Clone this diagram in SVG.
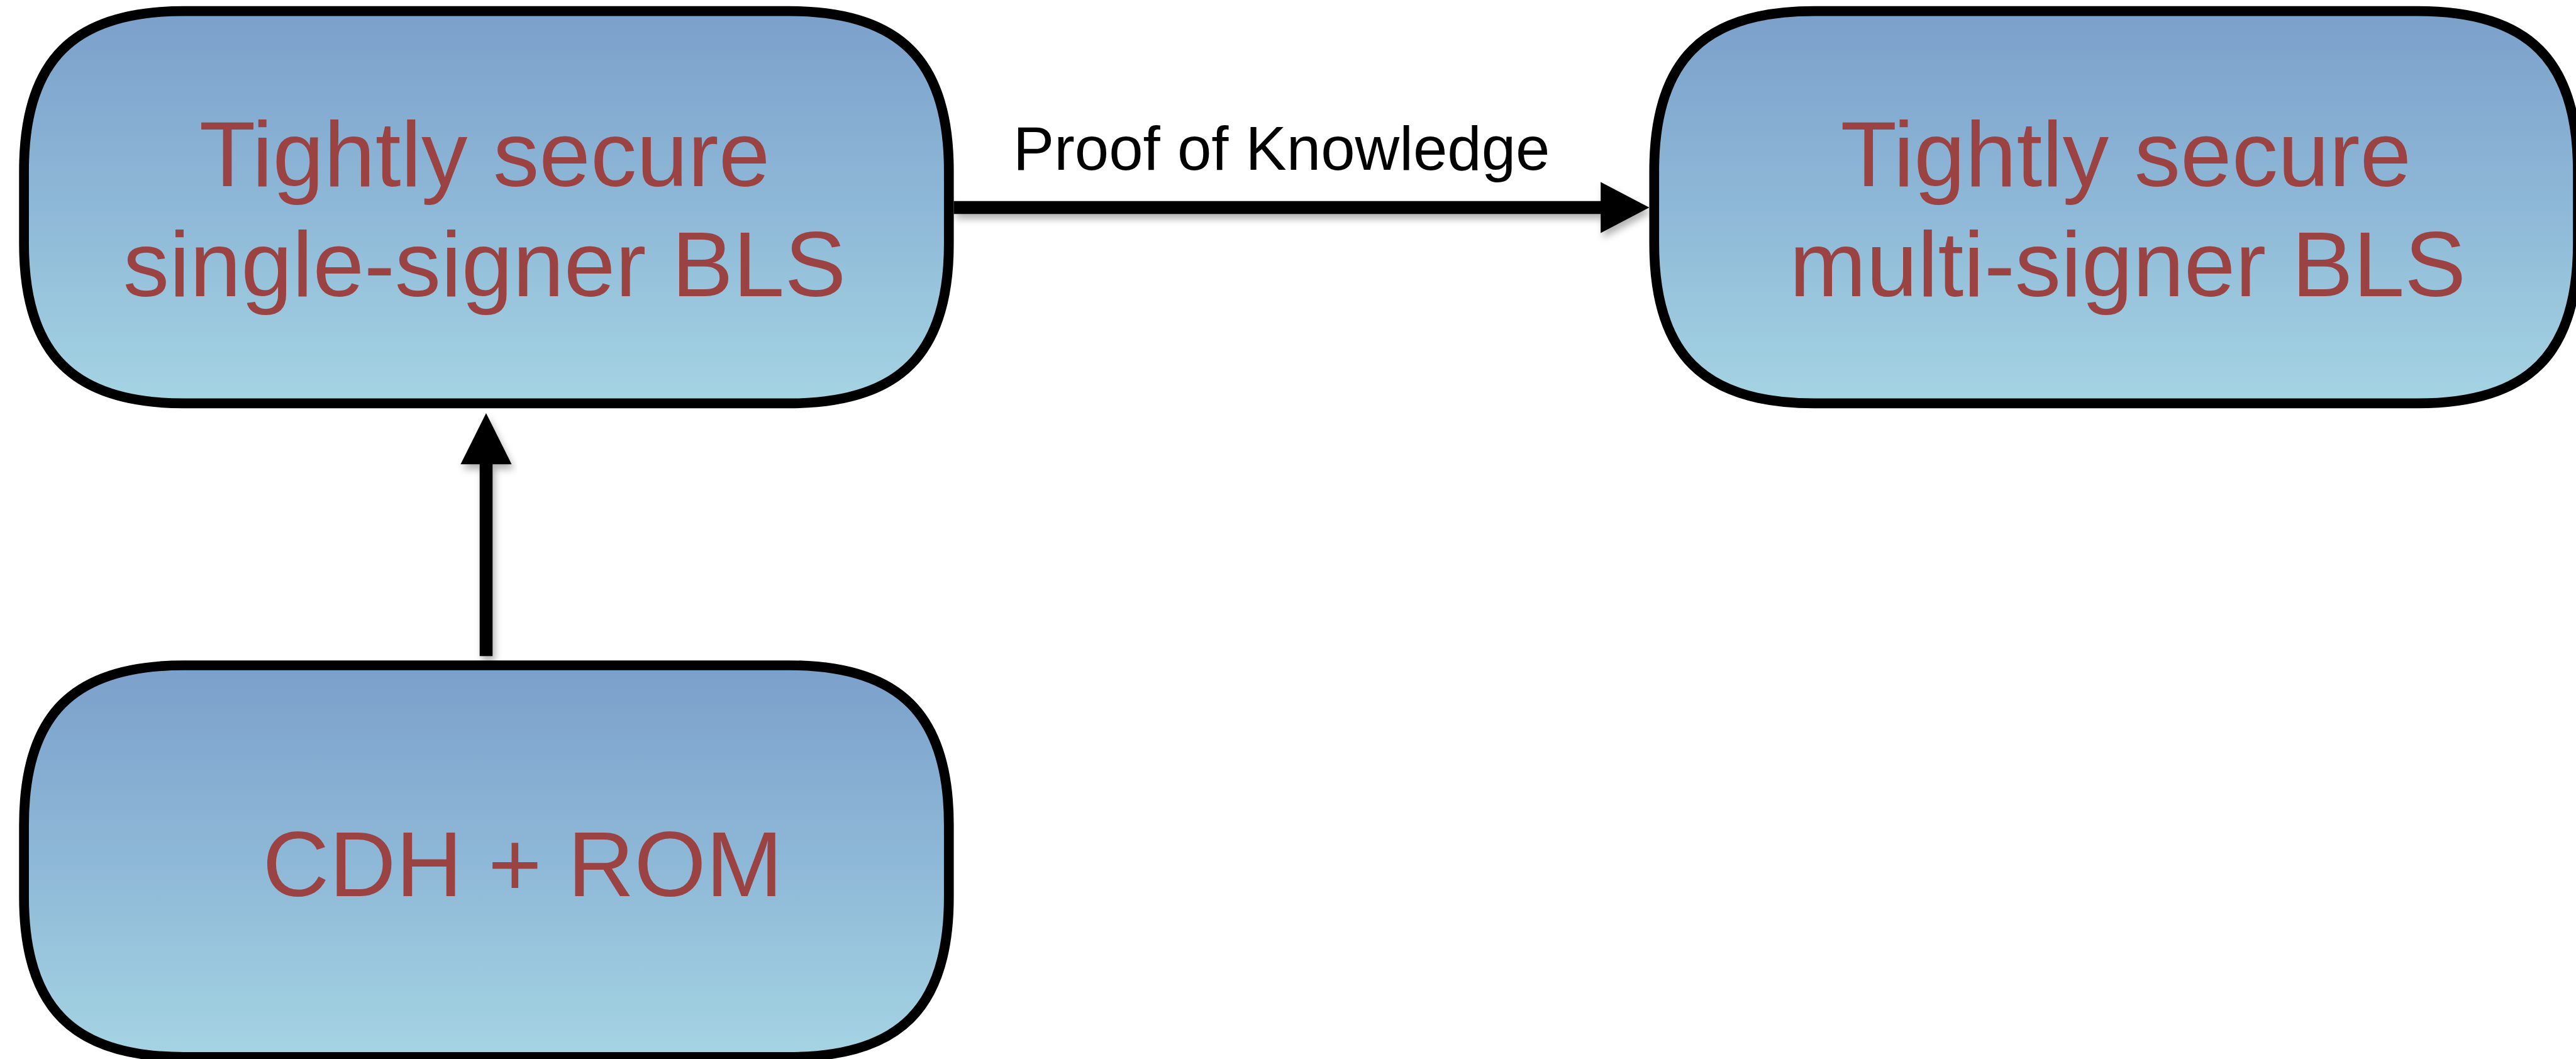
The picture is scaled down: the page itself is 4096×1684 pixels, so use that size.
<svg xmlns="http://www.w3.org/2000/svg" width="4096" height="1684" viewBox="0 0 4096 1684">
  <defs>
    <linearGradient id="boxFill" x1="0" y1="0" x2="0" y2="1">
      <stop offset="0" stop-color="#7BA0CB"/>
      <stop offset="0.5" stop-color="#8EB8D7"/>
      <stop offset="1" stop-color="#A5D4E3"/>
    </linearGradient>
    <filter id="arrowShadow" x="-10%" y="-50%" width="120%" height="200%">
      <feDropShadow dx="4" dy="8" stdDeviation="6" flood-color="#000" flood-opacity="0.3"/>
    </filter>
    <style>
      .box { fill: url(#boxFill); stroke: #000; stroke-width: 16; }
      .node-text { font-family: "Liberation Sans", Arial, Helvetica, sans-serif; font-size: 150px; fill: #9B4342; text-anchor: middle; }
      .edge-label { font-family: "Liberation Sans", Arial, Helvetica, sans-serif; font-size: 100px; fill: #000; text-anchor: middle; }
      .edge { fill: #000; }
    </style>
  </defs>
  <rect width="4096" height="1684" fill="#fff"/>
  <g transform="scale(0.9778)">
    <!-- connectors: arrow bodies cast a soft shadow, labels do not -->
    <g id="connectors">
      <g id="edge-pok">
        <g filter="url(#arrowShadow)">
          <rect class="edge" x="1551" y="327" width="1054" height="21"/>
          <polygon class="edge" points="2603,296 2682,337.5 2603,379"/>
        </g>
        <text class="edge-label" x="2084" y="276">Proof of Knowledge</text>
      </g>
      <g id="edge-cdh" filter="url(#arrowShadow)">
        <rect class="edge" x="780" y="753" width="21" height="314"/>
        <polygon class="edge" points="749,755 790.5,672 832,755"/>
      </g>
    </g>
    <!-- nodes: rounded boxes with smooth (squircle-like) corners -->
    <g id="node-single">
      <path class="box" d="M299,18 H1283 C1463,18 1543,98 1543,278 V396 C1543,576 1463,656 1283,656 H299 C119,656 39,576 39,396 V278 C39,98 119,18 299,18 Z"/>
      <text class="node-text" x="788" y="303">Tightly secure</text>
      <text class="node-text" x="788" y="482">single-signer BLS</text>
    </g>
    <g id="node-multi">
      <path class="box" d="M2950,18 H3932 C4112,18 4192,98 4192,278 V396 C4192,576 4112,656 3932,656 H2950 C2770,656 2690,576 2690,396 V278 C2690,98 2770,18 2950,18 Z"/>
      <text class="node-text" x="3457" y="303">Tightly secure</text>
      <text class="node-text" x="3460" y="482">multi-signer BLS</text>
    </g>
    <g id="node-cdh">
      <path class="box" d="M299,1082 H1283 C1463,1082 1543,1162 1543,1342 V1459 C1543,1639 1463,1719 1283,1719 H299 C119,1719 39,1639 39,1459 V1342 C39,1162 119,1082 299,1082 Z"/>
      <text class="node-text" x="850" y="1457">CDH + ROM</text>
    </g>
  </g>
</svg>
